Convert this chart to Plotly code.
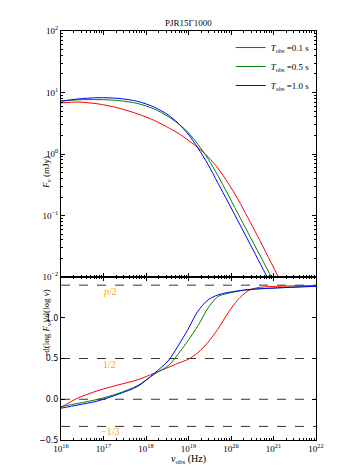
"""Two-panel spectrum plot: flux density and spectral slope vs observed frequency."""

import plotly.graph_objects as go

# observation times for the three curves
t_labels = ["0.1", "0.5", "1.0"]
colors = ["#ff0000", "#008000", "#0000ff"]

# top panel: log10(nu) and log10(F_nu / mJy)
red_lognu = [16.0, 16.4, 16.87, 17.34, 17.81, 18.2, 18.75, 18.99, 19.22, 19.46, 19.69, 19.93, 20.16, 20.4, 20.63, 21.13, 21.3]
red_logf = [0.83, 0.845, 0.815, 0.75, 0.65, 0.545, 0.34, 0.225, 0.105, -0.045, -0.23, -0.47, -0.73, -1.04, -1.34, -2.02, -2.25]

green_lognu = [16.0, 16.4, 16.87, 17.34, 17.81, 18.2, 18.52, 18.75, 18.99, 19.22, 19.46, 19.69, 19.93, 20.4, 20.95, 21.1]
green_logf = [0.86, 0.88, 0.885, 0.87, 0.82, 0.73, 0.61, 0.50, 0.35, 0.16, -0.08, -0.35, -0.66, -1.28, -2.0, -2.2]

blue_lognu = [16.0, 16.4, 16.87, 17.34, 17.81, 18.2, 18.52, 18.75, 18.99, 19.22, 19.46, 19.69, 19.93, 20.4, 20.85, 21.0]
blue_logf = [0.86, 0.895, 0.915, 0.905, 0.855, 0.76, 0.635, 0.505, 0.325, 0.10, -0.17, -0.47, -0.78, -1.40, -2.0, -2.2]

# bottom panel: -d(log F_nu)/d(log nu)
red_slope_lognu = [16.0, 16.4, 16.87, 17.34, 17.81, 18.2, 18.75, 18.99, 19.22, 19.46, 19.69, 19.93, 20.16, 20.4, 20.63, 21.1, 22.0]
red_slope = [-0.10, 0.016, 0.106, 0.175, 0.24, 0.32, 0.44, 0.49, 0.57, 0.70, 0.86, 1.06, 1.22, 1.33, 1.37, 1.386, 1.395]

green_slope_lognu = [16.0, 16.4, 16.87, 17.34, 17.81, 18.2, 18.52, 18.75, 18.99, 19.22, 19.46, 19.69, 19.93, 20.4, 21.1, 22.0]
green_slope = [-0.09, -0.05, 0.0, 0.07, 0.17, 0.31, 0.41, 0.55, 0.72, 0.90, 1.12, 1.26, 1.30, 1.345, 1.368, 1.388]

blue_slope_lognu = [16.0, 16.4, 16.87, 17.34, 17.81, 18.2, 18.52, 18.75, 18.99, 19.22, 19.46, 19.69, 19.93, 20.4, 21.1, 22.0]
blue_slope = [-0.11, -0.07, -0.02, 0.06, 0.16, 0.32, 0.47, 0.65, 0.86, 1.08, 1.22, 1.28, 1.31, 1.345, 1.366, 1.386]

# reference slopes (dashed) and their labels
ref_values = [1.4, 0.5, 0.0, -1 / 3]
ref_labels = ["<i>p</i>/2", "1/2", "", "\u22121/3"]
ref_label_y = [1.32, 0.43, None, -0.39]

x_tick_exp = [16, 17, 18, 19, 20, 21, 22]
top_tick_exp = [-2, -1, 0, 1, 2]
bottom_ticks = [-0.5, 0.0, 0.5, 1.0]
bottom_tick_text = ["\u22120.5", "0.0", "0.5", "1.0"]

serif = "Liberation Serif"
sans = "DejaVu Sans"

fig = go.Figure()

top_sets = [(red_lognu, red_logf), (green_lognu, green_logf), (blue_lognu, blue_logf)]
for (lx, ly), t, c in zip(top_sets, t_labels, colors):
    fig.add_trace(
        go.Scatter(
            x=[10.0**v for v in lx],
            y=[10.0**v for v in ly],
            mode="lines",
            line={"color": c, "width": 1, "shape": "spline", "smoothing": 0.8},
            name=f"<i>T</i><sub>obs</sub> ={t} s",
            xaxis="x",
            yaxis="y",
        )
    )

bottom_sets = [
    (red_slope_lognu, red_slope),
    (green_slope_lognu, green_slope),
    (blue_slope_lognu, blue_slope),
]
for (lx, sy), c in zip(bottom_sets, colors):
    fig.add_trace(
        go.Scatter(
            x=[10.0**v for v in lx],
            y=sy,
            mode="lines",
            line={"color": c, "width": 1, "shape": "spline", "smoothing": 0.8},
            showlegend=False,
            xaxis="x2",
            yaxis="y2",
        )
    )

for v in ref_values:
    fig.add_shape(
        type="line",
        xref="x2 domain",
        yref="y2",
        x0=0,
        x1=1,
        y0=v,
        y1=v,
        line={"color": "#333333", "width": 1, "dash": "dash"},
        layer="below",
    )

annotations = []
for text, yv in zip(ref_labels, ref_label_y):
    if not text:
        continue
    annotations.append(
        {
            "text": text,
            "x": 17.15,
            "y": yv,
            "xref": "x2",
            "yref": "y2",
            "showarrow": False,
            "font": {"family": serif, "size": 10, "color": "#ffa500"},
        }
    )

annotations += [
    {
        "text": "PJR15\u03931000",
        "x": 0.5,
        "y": 1.0,
        "xref": "paper",
        "yref": "paper",
        "yanchor": "bottom",
        "yshift": 1,
        "showarrow": False,
        "font": {"family": serif, "size": 9, "color": "black"},
    },
    {
        "text": "<i>F</i><sub>\u03bd</sub> (mJy)",
        "x": 0,
        "xshift": -22,
        "y": 0.70,
        "xref": "paper",
        "yref": "paper",
        "textangle": -90,
        "showarrow": False,
        "font": {"family": serif, "size": 9, "color": "black"},
    },
    {
        "text": "-d(log <i>F</i><sub>\u03bd</sub>)/d(log <i>\u03bd</i>)",
        "x": 0,
        "xshift": -22,
        "y": 0.20,
        "xref": "paper",
        "yref": "paper",
        "textangle": -90,
        "showarrow": False,
        "font": {"family": serif, "size": 9, "color": "black"},
    },
    {
        "text": "<i>\u03bd</i><sub>obs</sub> (Hz)",
        "x": 0.5,
        "y": 0,
        "yshift": -11,
        "xref": "paper",
        "yref": "paper",
        "yanchor": "top",
        "showarrow": False,
        "font": {"family": serif, "size": 10, "color": "black"},
    },
]

axis_common = {
    "showline": True,
    "linecolor": "black",
    "linewidth": 1,
    "mirror": "allticks",
    "ticks": "inside",
    "ticklen": 4,
    "tickcolor": "black",
    "showgrid": False,
    "zeroline": False,
    "automargin": False,
}

split = 0.3985
fig.update_layout(
    width=353,
    height=471,
    autosize=False,
    margin={"l": 53, "r": 45, "t": 23, "b": 39, "autoexpand": False},
    paper_bgcolor="white",
    plot_bgcolor="white",
    showlegend=True,
    legend={
        "x": 0.995,
        "y": 0.995,
        "xanchor": "right",
        "yanchor": "top",
        "bgcolor": "rgba(0,0,0,0)",
        "font": {"family": serif, "size": 9, "color": "black"},
        "tracegroupgap": 0,
        "itemwidth": 30,
    },
    xaxis={
        **axis_common,
        "type": "log",
        "range": [16, 22],
        "anchor": "y",
        "matches": "x2",
        "tickvals": [10.0**e for e in x_tick_exp],
        "showticklabels": False,
        "minor": {"ticks": "inside", "ticklen": 2, "dtick": "D1", "tickcolor": "black"},
    },
    yaxis={
        **axis_common,
        "type": "log",
        "range": [-2, 2],
        "domain": [split, 1.0],
        "anchor": "x",
        "tickvals": [10.0**e for e in top_tick_exp],
        "ticktext": [f"10<sup>{e}</sup>".replace("-", "\u2212") for e in top_tick_exp],
        "tickfont": {"family": serif, "size": 9, "color": "black"},
        "minor": {"ticks": "inside", "ticklen": 2, "dtick": "D1", "tickcolor": "black"},
    },
    xaxis2={
        **axis_common,
        "type": "log",
        "range": [16, 22],
        "anchor": "y2",
        "tickvals": [10.0**e for e in x_tick_exp],
        "ticktext": [f"10<sup>{e}</sup>" for e in x_tick_exp],
        "tickfont": {"family": serif, "size": 9, "color": "black"},
        "minor": {"ticks": "inside", "ticklen": 2, "dtick": "D1", "tickcolor": "black"},
    },
    yaxis2={
        **axis_common,
        "range": [-0.5, 1.5],
        "domain": [0.0, split],
        "anchor": "x2",
        "tickvals": bottom_ticks,
        "ticktext": bottom_tick_text,
        "tickfont": {"family": sans, "size": 8, "color": "black"},
    },
    annotations=annotations,
)

fig.write_html("out.html")
